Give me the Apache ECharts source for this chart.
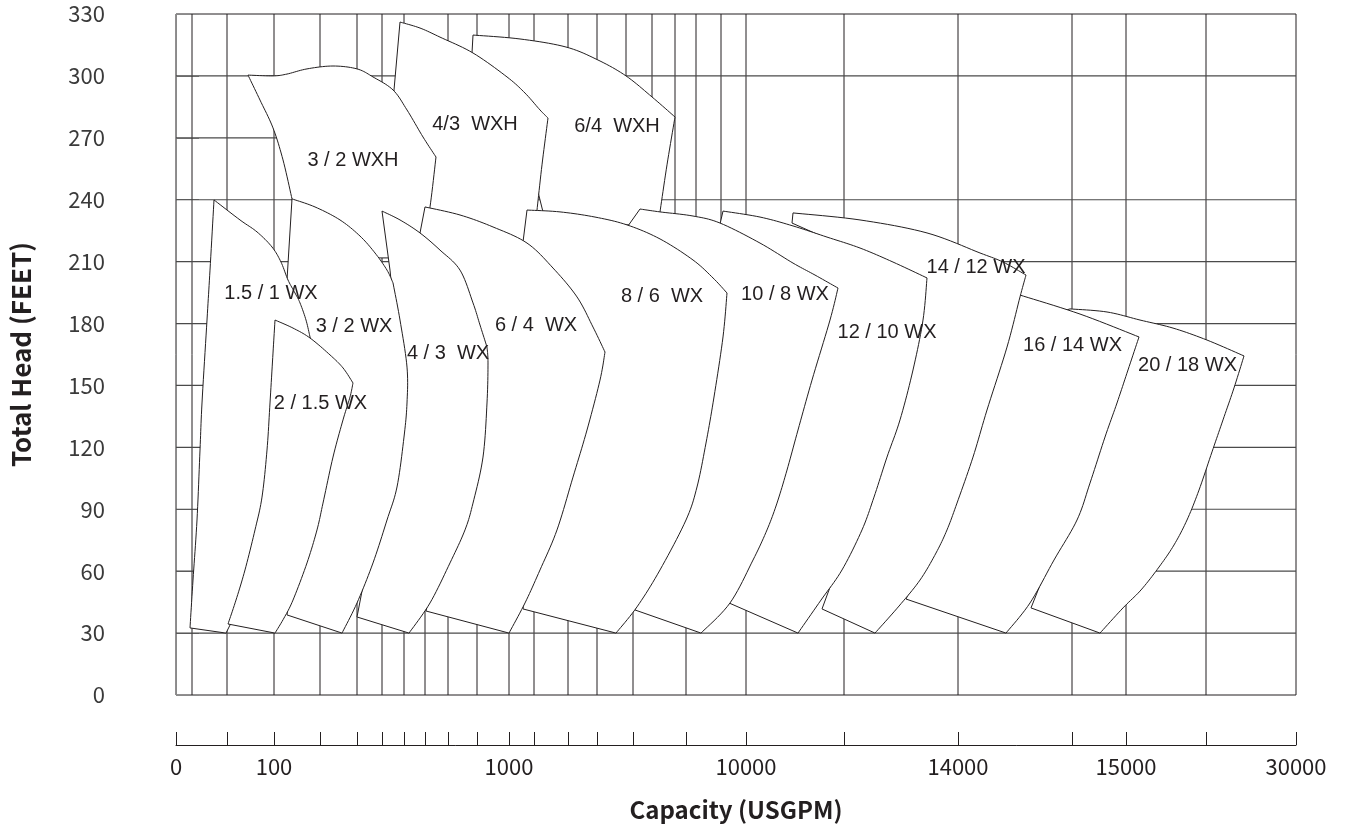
<!DOCTYPE html>
<html>
<head>
<meta charset="utf-8">
<script src="https://cdn.jsdelivr.net/npm/echarts@6/dist/echarts.min.js"></script>
<style>
html,body{margin:0;padding:0;background:#ffffff;}
#chart{width:1345px;height:828px;}
</style>
</head>
<body>
<div id="chart"></div>
<script>
// ---- Axis data -------------------------------------------------------------
// Capacity axis: the printed scale is non-uniform, so positions are given in
// "scale units" (0 .. 1120) along the axis, and labels are attached to them.
const capTickPositions = [0,51,98,144,181,206,228,249,272,301,333,358,392,421,457,510,570,668,782,896,950,1030,1120];
const capLabelPositions = [0,98,333,570,782,950,1120];
const capLabels = ['0','100','1000','10000','14000','15000','30000'];

// vertical grid lines (scale units)
const vGridFull  = [16,51,98,144,181,206,228,272,301,333,358,392,421,570,668,782,896,950,1030];
const vGridUpper = [450,476,499,520,545];   // only in the upper part
const vGridLower = [249,457,510];           // only in the lower part
// horizontal grid lines (feet)
const hGridFull  = [30,60,90,120,150,180,210,240,300];
const hGridLeftOnly = [270];

// ---- Pump envelopes: [capacity scale units, total head ft] -------------------
const env_6_4_WXH = [[297,319.8],[344,317.9],[390,314.0],[422,307.7],[450,300.0],[476,289.8],[499,280.1],[491,256.9],[484,234.1],[482,232.1],[464,227.8],[424,227.8],[369,230.2],[359,249.6],[359,278.6],[304,306.7],[296,311.1]];
const env_4_3_WXH = [[224,326.1],[244,323.2],[264,318.8],[297,311.1],[331,299.5],[349,291.7],[364,283.5],[372,279.6],[366,256.9],[361,235.0],[362,232.1],[354,215.6],[314,222.9],[264,230.2],[254,232.6],[239,244.7],[219,273.8],[218,293.2]];
const env_3_2_WXH = [[72,300.4],[97,300.0],[111,300.9],[131,303.4],[157,304.8],[181,303.4],[197,299.5],[217,293.2],[231,283.5],[247,270.4],[260,260.7],[254,236.5],[249,225.3],[229,220.5],[219,211.8],[199,211.8],[164,225.3],[124,235.0],[117,237.4],[116,240.4],[107,259.3],[97,274.8],[84,288.3]];
const env_20_18_WX = [[884,185.6],[894,187.1],[931,185.6],[964,181.7],[997,177.8],[1031,172.0],[1068,164.3],[1058,148.8],[1047,133.3],[1036,117.8],[1023,99.3],[1011,84.8],[998,72.7],[983,62.0],[965,50.9],[947,42.2],[924,30],[855,42.2],[874,65.4],[899,94.5],[917,123.6],[939,152.6],[949,172.0],[924,178.3]];
const env_16_14_WX = [[844,193.8],[904,184.6],[963,173.5],[952,157.5],[941,141.5],[929,125.0],[914,102.7],[901,84.8],[878,65.4],[854,44.6],[830,30],[730,46.5],[749,65.4],[774,94.5],[799,128.4],[822,162.3],[839,191.4]];
const env_14_12_WX = [[617,233.6],[684,230.2],[751,223.9],[804,214.2],[827,209.8],[850,203.5],[844,192.9],[831,168.6],[811,138.1],[797,115.3],[781,93.0],[771,80.0],[760,68.8],[744,55.7],[723,43.1],[699,30],[646,41.7],[664,65.4],[694,99.3],[719,133.3],[736,167.2],[739,196.3],[702,211.8],[654,220.5],[616,228.7]];
const env_12_10_WX = [[547,234.5],[584,231.6],[617,227.3],[651,221.9],[684,216.6],[717,209.8],[751,202.1],[747,181.7],[737,157.5],[724,133.3],[711,115.3],[698,95.9],[686,80.0],[666,60.6],[645,46.0],[622,30],[553,44.6],[569,65.4],[594,94.5],[614,133.3],[624,167.2],[614,203.5],[579,218.1],[544,228.2]];
const env_10_8_WX = [[464,235.5],[484,234.1],[517,232.1],[544,228.7],[584,219.0],[617,209.3],[639,203.5],[662,197.2],[654,181.7],[636,152.6],[622,128.4],[611,109.0],[601,93.0],[591,80.0],[577,65.4],[554,44.6],[525,30],[459,41.2],[474,60.6],[504,94.5],[524,143.0],[529,181.7],[514,208.4],[452,227.3]];
const env_8_6_WX = [[351,235.0],[384,234.1],[419,231.6],[451,227.8],[484,221.0],[517,210.8],[537,202.1],[551,194.8],[547,173.5],[538,144.4],[530,122.1],[521,100.8],[510,84.8],[484,60.6],[461,42.7],[440,30],[347,41.7],[352,60.6],[374,94.5],[399,143.0],[379,191.4],[347,219.5]];
const env_6_4_WX = [[249,236.5],[284,232.6],[317,226.8],[351,219.0],[377,206.9],[401,192.9],[417,178.3],[429,166.2],[424,152.6],[411,128.4],[397,105.6],[381,80.0],[364,60.6],[349,44.6],[333,30],[250,40.7],[269,80.0],[297,125.0],[302,158.9],[286,191.4],[256,214.7],[244,223.9]];
const env_4_3_WX = [[206,234.5],[224,230.2],[244,223.9],[264,215.6],[284,205.9],[297,190.0],[304,179.3],[311,168.6],[312,160.9],[311,141.5],[307,115.3],[297,93.0],[289,80.0],[274,64.0],[254,44.6],[233,30],[181,37.8],[192,65.4],[204,94.5],[222,125.0],[224,158.9],[217,191.4],[214,205.9]];
const env_3_2_WX = [[116,240.4],[139,236.5],[164,230.2],[184,222.4],[199,214.2],[211,205.9],[217,199.7],[224,181.7],[231,158.9],[231,141.5],[228,125.0],[221,100.8],[211,84.8],[197,64.0],[181,44.6],[166,30],[111,38.8],[122,75.1],[124,118.7],[124,143.0],[109,176.9],[111,201.1]];
const env_15_1_WX = [[38,239.9],[64,230.2],[81,224.4],[96,217.1],[105,209.8],[112,201.1],[119,194.8],[124,190.0],[130,181.7],[134,173.5],[142,157.5],[124,128.4],[104,94.5],[82,65.4],[64,43.6],[50,30],[14,32.5],[17,55.7],[21,84.8],[24,118.7],[26,141.5],[31,181.7],[34,205.9]];
const env_2_15_WX = [[99,181.7],[117,177.8],[134,173.0],[154,164.8],[167,158.5],[177,151.2],[174,144.4],[167,133.3],[157,115.3],[147,93.0],[141,80.0],[131,64.0],[117,46.0],[108,37.3],[99,30],[52,34.4],[60,46.0],[69,60.6],[79,80.0],[86,95.9],[91,118.7],[94,141.5],[97,165.7]];

// model names and label anchor points [scale units, ft]
const modelNames = ['6/4  WXH','4/3  WXH','3 / 2 WXH','20 / 18 WX','16 / 14 WX','14 / 12 WX','12 / 10 WX','10 / 8 WX','8 / 6  WX','6 / 4  WX','4 / 3  WX','3 / 2 WX','1.5 / 1 WX','2 / 1.5 WX'];
const modelLabelPos = [[441,275.4],[299,276.5],[177,258.8],[1011.5,159.7],[896.5,169.6],[800,207.4],[711,175.7],[609,194.1],[486,193.1],[360,179.0],[272,165.6],[178,178.7],[95,194.5],[144.5,141.5]];
const envelopes = [env_6_4_WXH, env_4_3_WXH, env_3_2_WXH, env_20_18_WX, env_16_14_WX, env_14_12_WX, env_12_10_WX, env_10_8_WX, env_8_6_WX, env_6_4_WX, env_4_3_WX, env_3_2_WX, env_15_1_WX, env_2_15_WX];
// index runs of each outline that are curved (drawn as smooth curves)
const curvedRuns = [
  [[0,6],[6,8]], [[0,7],[7,9]], [[0,10],[10,12],[19,23]],
  [[1,6],[6,16]], [[0,2],[2,10]], [[0,5],[5,15]], [[0,6],[6,15]], [[0,7],[7,16]],
  [[0,7],[7,15]], [[0,7],[7,14]], [[0,7],[7,15]], [[0,6],[6,15]],
  [[0,9],[16,23]], [[0,5],[5,14],[15,23]]
];

// ---- Build ------------------------------------------------------------------
const X_MAX = 1120, Y_MAX = 330;
const gridSegs = [];
vGridFull.forEach(x => gridSegs.push({v:[x,0,x,Y_MAX], h:false}));
vGridUpper.forEach(x => gridSegs.push({v:[x,150,x,Y_MAX], h:false}));
vGridLower.forEach(x => gridSegs.push({v:[x,0,x,150], h:false}));
hGridFull.forEach(y => gridSegs.push({v:[0,y,X_MAX,y], h:true}));
hGridLeftOnly.forEach(y => gridSegs.push({v:[0,y,124,y], h:true}));

// Catmull-Rom curve through pixel points
function smoothRun(p) {
  const out = [];
  for (let i = 0; i < p.length - 1; i++) {
    const p0 = p[Math.max(i - 1, 0)], p1 = p[i], p2 = p[i + 1], p3 = p[Math.min(i + 2, p.length - 1)];
    for (let k = 1; k <= 10; k++) {
      const t = k / 10, t2 = t * t, t3 = t2 * t;
      out.push([0, 1].map(d => 0.5 * (2 * p1[d] + (-p0[d] + p2[d]) * t +
        (2 * p0[d] - 5 * p1[d] + 4 * p2[d] - p3[d]) * t2 + (-p0[d] + 3 * p1[d] - 3 * p2[d] + p3[d]) * t3)));
    }
  }
  return out;
}
function outline(px, runs) {
  const n = px.length, path = [px[0]];
  let i = 0;
  while (i < n) {
    const r = runs.find(rr => rr[0] === i);
    if (r) {
      const seg = [];
      for (let j = r[0]; j <= r[1]; j++) seg.push(px[j % n]);
      path.push(...smoothRun(seg));
      i = r[1];
    } else {
      path.push(px[(i + 1) % n]);
      i++;
    }
  }
  return path;
}

const lineColor = '#231f20';
const chart = echarts.init(document.getElementById('chart'), null, {renderer:'canvas'});

chart.setOption({
  animation: false,
  backgroundColor: '#ffffff',
  grid: {left:176, right:49, top:14, bottom:133, show:true, borderColor:lineColor, borderWidth:1, backgroundColor:'rgba(0,0,0,0)'},
  xAxis: [
    {type:'value', min:0, max:X_MAX, position:'bottom',
      axisLine:{show:false}, axisTick:{show:false}, axisLabel:{show:false}, splitLine:{show:false}},
    {type:'value', min:0, max:X_MAX, position:'bottom', offset:50,
      axisLine:{show:true, onZero:false, lineStyle:{color:lineColor, width:1}},
      axisTick:{show:true, inside:true, length:13, customValues:capTickPositions, lineStyle:{color:lineColor, width:1}},
      axisLabel:{show:true, customValues:capLabelPositions, margin:11, fontSize:22, color:'#231f20',
        fontFamily:'"Noto Sans CJK SC","Noto Sans",sans-serif',
        formatter: v => { const i = capLabelPositions.indexOf(v); return i >= 0 ? capLabels[i] : ''; }},
      splitLine:{show:false},
      name:'Capacity (USGPM)', nameLocation:'middle', nameGap:53,
      nameTextStyle:{fontSize:24, fontWeight:'bold', color:'#231f20', fontFamily:'"Noto Sans CJK SC","Noto Sans",sans-serif'}}
  ],
  yAxis: [{
    type:'value', min:0, max:Y_MAX, interval:30, offset:47,
    axisLine:{show:true, lineStyle:{color:'#8a8a8a', width:1}},
    axisTick:{show:true, inside:true, length:23, lineStyle:{color:'#8a8a8a', width:1}},
    axisLabel:{margin:24, fontSize:22, color:'#3a3a3a', fontFamily:'"Noto Sans CJK SC","Noto Sans",sans-serif'},
    splitLine:{show:false},
    name:'Total Head (FEET)', nameLocation:'middle', nameGap:95, nameRotate:90,
    nameTextStyle:{fontSize:26, fontWeight:'bold', color:'#231f20', fontFamily:'"Noto Sans CJK SC","Noto Sans",sans-serif'}
  }],
  series: [
    {
      type:'custom', name:'grid', xAxisIndex:0, yAxisIndex:0, z:1, silent:true, clip:false,
      data: gridSegs.map(s => s.v),
      renderItem: (params, api) => {
        const s = gridSegs[params.dataIndex];
        const p1 = api.coord([s.v[0], s.v[1]]);
        const p2 = api.coord([s.v[2], s.v[3]]);
        return {type:'line', shape:{x1:p1[0], y1:p1[1], x2:p2[0], y2:p2[1]},
          style:{stroke: s.h ? '#4a4a4a' : lineColor, lineWidth: s.h ? 1.2 : 1}};
      }
    },
    {
      type:'custom', name:'envelopes', xAxisIndex:0, yAxisIndex:0, z:2, silent:true, clip:false,
      data: envelopes.map(e => e[0]),
      renderItem: (params, api) => {
        const idx = params.dataIndex;
        const px = envelopes[idx].map(p => api.coord(p));
        return {type:'polygon', z2: idx, shape:{points: outline(px, curvedRuns[idx])},
          style:{fill:'#ffffff', stroke:lineColor, lineWidth:1, lineJoin:'miter'}};
      }
    },
    {
      type:'custom', name:'labels', xAxisIndex:0, yAxisIndex:0, z:3, silent:true, clip:false,
      data: modelLabelPos,
      renderItem: (params, api) => {
        const p = api.coord(modelLabelPos[params.dataIndex]);
        return {type:'text', x:p[0], y:p[1],
          style:{text:modelNames[params.dataIndex], fill:'#231f20', fontSize:20,
            fontFamily:'"Liberation Sans",Arial,sans-serif', align:'center', verticalAlign:'middle'}};
      }
    }
  ]
});
</script>
</body>
</html>
